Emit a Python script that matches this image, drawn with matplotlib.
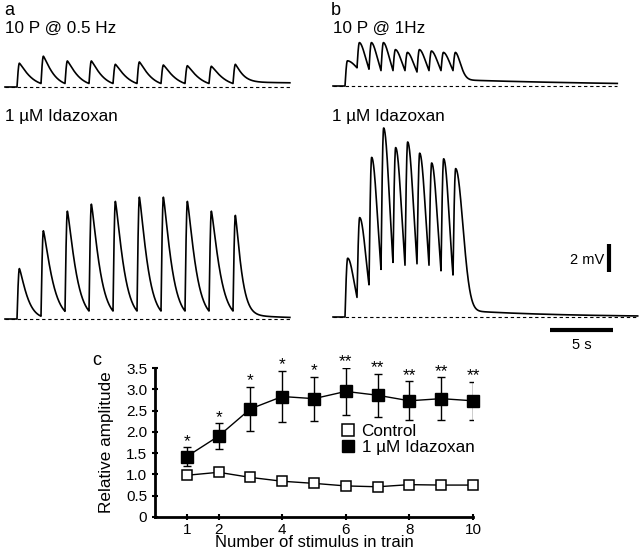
import numpy as np
import matplotlib
matplotlib.use("Agg")
import matplotlib.pyplot as plt
from matplotlib.lines import Line2D

plt.rcParams['font.family'] = ['Liberation Sans', 'DejaVu Sans']

# ---------------- data ----------------
# Panel a (0.5 Hz): stimulus times (s), peak and trough amplitudes (mV)
a_stim = [1, 3, 5, 7, 9, 11, 13, 15, 17, 19]
a_ctrl_peaks = [1.70, 2.20, 1.86, 1.86, 1.62, 1.79, 1.57, 1.52, 1.48, 1.62]
a_ctrl_troughs = [0.25, 0.25, 0.25, 0.25, 0.25, 0.25, 0.25, 0.25, 0.25]
a_ida_peaks = [3.6, 6.3, 7.7, 8.2, 8.4, 8.7, 8.7, 8.4, 7.7, 7.4]
a_ida_troughs = [0.2, 0.55, 0.57, 0.57, 0.57, 0.57, 0.57, 0.57, 0.57]

# Panel b (1 Hz)
b_stim = [1, 2, 3, 4, 5, 6, 7, 8, 9, 10]
b_ctrl_peaks = [1.8, 3.1, 3.1, 3.1, 2.6, 2.4, 2.6, 2.5, 2.4, 2.4]
b_ctrl_troughs = [1.3, 1.2, 1.1, 1.1, 1.1, 1.0, 1.1, 1.1, 1.1]
b_ida_peaks = [4.2, 7.1, 11.4, 13.5, 12.1, 12.5, 11.7, 11.0, 11.3, 10.6]
b_ida_troughs = [1.4, 2.3, 3.4, 3.9, 3.7, 3.8, 3.7, 3.3, 3.0]

# Panel c
stim_num = [1, 2, 3, 4, 5, 6, 7, 8, 9, 10]
control = [0.98, 1.05, 0.93, 0.84, 0.79, 0.73, 0.71, 0.76, 0.75, 0.75]
idazoxan = [1.42, 1.90, 2.54, 2.83, 2.78, 2.95, 2.86, 2.73, 2.78, 2.73]
idazoxan_err = [0.22, 0.30, 0.52, 0.60, 0.52, 0.55, 0.50, 0.46, 0.50, 0.45]
stars = ['*', '*', '*', '*', '*', '**', '**', '**', '**', '**']
xticks_c = [1, 2, 4, 6, 8, 10]
yticks_c = [0, 0.5, 1.0, 1.5, 2.0, 2.5, 3.0, 3.5]
ytick_labels_c = ['0', '0.5', '1.0', '1.5', '2.0', '2.5', '3.0', '3.5']

# ---------------- helpers ----------------
W, H = 640, 552
PXS = 12.0   # px per second
PXMV = 14.0  # px per mV
FS = 12.3

fig = plt.figure(figsize=(W / 100, H / 100), dpi=100)


def px_rect(x0, y0, x1, y1):
    return [x0 / W, 1 - y1 / H, (x1 - x0) / W, (y1 - y0) / H]


def trace_axes(x0, x1, y_top, y_bot, t_zero_px, base_px):
    ax = fig.add_axes(px_rect(x0, y_top, x1, y_bot))
    ax.set_xlim((x0 - t_zero_px) / PXS, (x1 - t_zero_px) / PXS)
    ax.set_ylim(-(y_bot - base_px) / PXMV, (base_px - y_top) / PXMV)
    ax.axis('off')
    return ax


def synth(t, stim, peaks, troughs, tr, p, tail_amp, tail_tau, last_tau):
    v = np.zeros_like(t)
    prev = 0.0
    n = len(stim)
    for i in range(n):
        t0 = stim[i]
        t1 = stim[i + 1] if i < n - 1 else t[-1] + 1
        m = (t >= t0) & (t < t1)
        u = t[m] - t0
        P = peaks[i]
        rise = prev + (P - prev) * np.sin(0.5 * np.pi * np.clip(u / tr, 0, 1))
        s = np.clip(u - tr, 0, None)
        if i < n - 1:
            T = t1 - t0
            tau = (T - tr) / np.log(P / troughs[i]) ** (1.0 / p)
            dec = P * np.exp(-(s / tau) ** p)
            prev = troughs[i]
        else:
            tail = tail_amp * np.exp(-s / tail_tau)
            dec = tail + (P - tail_amp) * np.exp(-(s / last_tau) ** p)
        v[m] = np.where(u < tr, rise, dec)
    return v


def draw_trace(ax, t_end, stim, peaks, troughs, tr, p, tail_amp, tail_tau, last_tau):
    t = np.arange(0, t_end, 0.01)
    v = synth(t, stim, peaks, troughs, tr, p, tail_amp, tail_tau, last_tau)
    ax.plot(t, v, color='black', lw=1.2)
    ax.plot([0, t_end], [0, 0], color='black', lw=0.8, ls=(0, (3, 2.5)))


# ---------------- panel a ----------------
ax_a1 = trace_axes(0, 320, 40, 95, 5, 87)
draw_trace(ax_a1, 23.75, a_stim, a_ctrl_peaks, a_ctrl_troughs, 0.2, 1.2, 0.35, 30, 0.7)
ax_a2 = trace_axes(0, 320, 130, 335, 5, 319)
draw_trace(ax_a2, 23.75, a_stim, a_ida_peaks, a_ida_troughs, 0.2, 1.25, 0.35, 4, 0.6)

# ---------------- panel b ----------------
ax_b1 = trace_axes(325, 640, 30, 95, 333, 86)
draw_trace(ax_b1, 23.7, b_stim, b_ctrl_peaks, b_ctrl_troughs, 0.2, 1.8, 0.45, 15, 0.6)
ax_b2 = trace_axes(325, 640, 110, 335, 333, 317)
draw_trace(ax_b2, 25.4, b_stim, b_ida_peaks, b_ida_troughs, 0.22, 2.0, 0.5, 8, 0.85)

# scale bars (2 mV, 5 s)
ax_b2.plot([23.0, 23.0], [3.2, 5.2], color='black', lw=3, solid_capstyle='butt', clip_on=False)
ax_b2.plot([18.1, 23.3], [-0.93, -0.93], color='black', lw=3, solid_capstyle='butt', clip_on=False)
ax_b2.text(22.6, 4.05, '2 mV', ha='right', va='center', fontsize=10.5)
ax_b2.text(20.7, -1.5, '5 s', ha='center', va='top', fontsize=10.5)

# texts
fig.text(4 / W, 1 - 2 / H, 'a', fontsize=13, va='top', ha='left')
fig.text(331 / W, 1 - 2 / H, 'b', fontsize=13, va='top', ha='left')
fig.text(5 / W, 1 - 28 / H, '10 P @ 0.5 Hz', fontsize=FS, va='center', ha='left')
fig.text(333 / W, 1 - 28 / H, '10 P @ 1Hz', fontsize=FS, va='center', ha='left')
fig.text(5 / W, 1 - 116 / H, '1 \u00b5M Idazoxan', fontsize=FS, va='center', ha='left')
fig.text(332 / W, 1 - 116 / H, '1 \u00b5M Idazoxan', fontsize=FS, va='center', ha='left')

# ---------------- panel c ----------------
axc = fig.add_axes(px_rect(155, 368, 473, 517))
axc.plot(stim_num, control, '-s', color='black', lw=1, mfc='white', mec='black',
         ms=7.5, mew=1.1, zorder=3, clip_on=False)
eb = axc.errorbar(stim_num, idazoxan, yerr=idazoxan_err, fmt='-s', color='black', lw=1,
                  ms=9, elinewidth=1, capsize=3, capthick=1, zorder=3)
eb.lines[0].set_clip_on(False)
for xi, yi, ei, s in zip(stim_num, idazoxan, idazoxan_err, stars):
    axc.text(xi, yi + ei + 0.14, s, ha='center', va='center', fontsize=12.5,
             clip_on=False)
axc.set_xlim(0, 10)
axc.set_ylim(0, 3.5)
axc.spines['right'].set_visible(False)
axc.spines['top'].set_visible(False)
axc.spines['left'].set_linewidth(2)
axc.spines['bottom'].set_linewidth(2)
axc.set_xticks(xticks_c)
axc.set_yticks(yticks_c)
axc.set_yticklabels(ytick_labels_c)
axc.tick_params(direction='inout', length=5, width=1.5, labelsize=11, pad=3)
axc.tick_params(axis='x', pad=1.5)
axc.set_ylabel('Relative amplitude', fontsize=FS)
axc.yaxis.set_label_coords(-0.13, 0.5)
axc.set_xlabel('Number of stimulus in train', fontsize=12)
axc.xaxis.label.set_va('baseline')
axc.xaxis.set_label_coords(0.5, -0.203)
fig.text(92 / W, 1 - 352 / H, 'c', fontsize=13, va='top', ha='left')

handles = [Line2D([], [], marker='s', ls='none', mfc='white', mec='black', ms=8.5, mew=1.1),
           Line2D([], [], marker='s', ls='none', mfc='black', mec='black', ms=8.5)]
axc.legend(handles, ['Control', '1 \u00b5M Idazoxan'], loc='upper left',
           bbox_to_anchor=(0.585, 0.625), frameon=False, fontsize=FS,
           handlelength=0.8, handletextpad=0.4, labelspacing=0.05,
           borderpad=0, borderaxespad=0)

fig.savefig('out.png', dpi=100)
